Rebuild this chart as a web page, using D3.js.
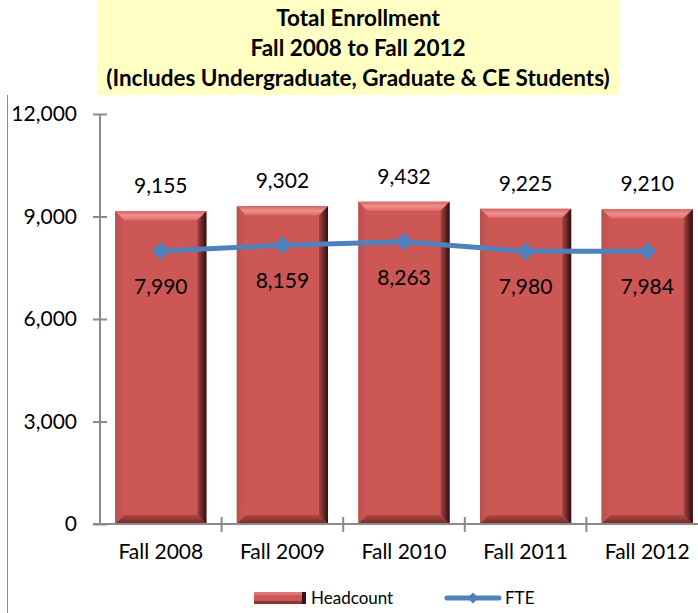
<!DOCTYPE html>
<html>
<head>
<meta charset="utf-8">
<script src="https://cdn.jsdelivr.net/npm/d3@7"></script>
<style>
  html, body { margin: 0; padding: 0; background: #fff; }
  svg { display: block; font-family: Lato, "Noto Sans", sans-serif; }
</style>
</head>
<body>
<svg id="chart" width="698" height="613"></svg>
<script>
// data
const categories = ["Fall 2008", "Fall 2009", "Fall 2010", "Fall 2011", "Fall 2012"];
const headcount = [9155, 9302, 9432, 9225, 9210];
const fte = [7990, 8159, 8263, 7980, 7984];
const yTicks = [0, 3000, 6000, 9000, 12000];
const titleLines = ["Total Enrollment", "Fall 2008 to Fall 2012", "(Includes Undergraduate, Graduate & CE Students)"];

const svg = d3.select("#chart");
const W = 698, H = 613;
const plotLeft = 100, plotBottom = 524, plotTop = 114;
const plotRight = 708; // plot runs past the window edge, like the source

const fmt = d3.format(",");

const x = d3.scaleBand().domain(categories).range([plotLeft, plotRight]).padding(0);
const xb = d3.scaleBand().domain(categories).range([plotLeft, plotRight])
    .paddingInner(0.25).paddingOuter(0.125);
const y = d3.scaleLinear().domain([0, 12000]).range([plotBottom, plotTop]);

// outer frame line on the left
svg.append("line").attr("x1", 7.5).attr("x2", 7.5).attr("y1", 95).attr("y2", H)
    .attr("stroke", "#8c8c8c").attr("stroke-width", 1);

// title box
svg.append("rect").attr("x", 97).attr("y", 0).attr("width", 523).attr("height", 95)
    .attr("fill", "#ffffc4");
svg.append("g").selectAll("text").data(titleLines).enter().append("text")
    .attr("x", 358).attr("y", (d, i) => 26 + i * 30)
    .attr("text-anchor", "middle")
    .attr("font-weight", "bold").attr("font-size", 22.5)
    .attr("fill", "#000")
    .text(d => d);

// gradients for the bevel
const defs = svg.append("defs");
const gR = defs.append("linearGradient").attr("id", "gRight").attr("x1", 0).attr("x2", 1).attr("y1", 0).attr("y2", 0);
gR.append("stop").attr("offset", 0).attr("stop-color", "#a84341");
gR.append("stop").attr("offset", 1).attr("stop-color", "#2b1010");
const gT = defs.append("linearGradient").attr("id", "gTop").attr("x1", 0).attr("x2", 0).attr("y1", 0).attr("y2", 1);
gT.append("stop").attr("offset", 0).attr("stop-color", "#d76563");
gT.append("stop").attr("offset", 0.5).attr("stop-color", "#f08e8c");
gT.append("stop").attr("offset", 1).attr("stop-color", "#dc6e6c");
const gB = defs.append("linearGradient").attr("id", "gBot").attr("x1", 0).attr("x2", 0).attr("y1", 0).attr("y2", 1);
gB.append("stop").attr("offset", 0).attr("stop-color", "#b04846");
gB.append("stop").attr("offset", 1).attr("stop-color", "#6e2a29");
const gL = defs.append("linearGradient").attr("id", "gLeft").attr("x1", 0).attr("x2", 1).attr("y1", 0).attr("y2", 0);
gL.append("stop").attr("offset", 0).attr("stop-color", "#b9504e");
gL.append("stop").attr("offset", 1).attr("stop-color", "#cd5755");

// bars
const bevel = 9;
const bars = svg.append("g").selectAll("g").data(categories).enter().append("g");
bars.each(function(c, i) {
    const g = d3.select(this);
    const x0 = xb(c), x1 = xb(c) + xb.bandwidth();
    const y0 = y(headcount[i]), y1 = y(0);
    const b = bevel;
    g.append("rect").attr("x", x0).attr("y", y0).attr("width", x1 - x0).attr("height", y1 - y0)
        .attr("fill", "#cd5755");
    g.append("polygon").attr("points", [[x0, y0], [x1, y0], [x1 - b, y0 + b], [x0 + b, y0 + b]].join(" "))
        .attr("fill", "url(#gTop)");
    g.append("polygon").attr("points", [[x0, y0], [x0 + b, y0 + b], [x0 + b, y1 - b], [x0, y1]].join(" "))
        .attr("fill", "url(#gLeft)");
    g.append("polygon").attr("points", [[x0, y1], [x0 + b, y1 - b], [x1 - b, y1 - b], [x1, y1]].join(" "))
        .attr("fill", "url(#gBot)");
    g.append("polygon").attr("points", [[x1, y0], [x1, y1], [x1 - b, y1 - b], [x1 - b, y0 + b]].join(" "))
        .attr("fill", "url(#gRight)");
});

// axes
const axisColor = "#8a8a8a";
const yAxis = svg.append("g").attr("transform", `translate(${plotLeft},0)`)
    .call(d3.axisLeft(y).tickValues(yTicks).tickSize(7).tickPadding(16).tickFormat(fmt));
yAxis.select(".domain").remove();
yAxis.selectAll(".tick line").attr("x1", 7).attr("x2", -7).attr("stroke", axisColor).attr("stroke-width", 2);
yAxis.selectAll(".tick text").attr("font-size", 21).attr("fill", "#000").attr("font-family", "Lato");
yAxis.append("line").attr("x1", 0).attr("x2", 0).attr("y1", plotTop).attr("y2", plotBottom)
    .attr("stroke", axisColor).attr("stroke-width", 2);

const xAxis = svg.append("g").attr("transform", `translate(0,${plotBottom})`)
    .call(d3.axisBottom(x).tickSize(0).tickPadding(20));
xAxis.select(".domain").remove();
xAxis.selectAll(".tick text").attr("font-size", 21).attr("fill", "#000").attr("font-family", "Lato");
xAxis.append("line").attr("x1", plotLeft - 7).attr("x2", W).attr("y1", 0).attr("y2", 0)
    .attr("stroke", axisColor).attr("stroke-width", 2);
xAxis.append("g").selectAll("line").data(categories.slice(1)).enter().append("line")
    .attr("x1", d => x(d)).attr("x2", d => x(d)).attr("y1", -7).attr("y2", 8)
    .attr("stroke", axisColor).attr("stroke-width", 2);

// headcount labels
svg.append("g").selectAll("text").data(categories).enter().append("text")
    .attr("x", d => x(d) + x.bandwidth() / 2)
    .attr("y", (d, i) => y(headcount[i]) - 18)
    .attr("text-anchor", "middle").attr("font-size", 21).attr("fill", "#000")
    .text((d, i) => fmt(headcount[i]));

// FTE line
const cx = d => x(d) + x.bandwidth() / 2;
const line = d3.line().x(d => cx(d[0])).y(d => y(d[1]));
const pts = categories.map((c, i) => [c, fte[i]]);
svg.append("path").datum(pts).attr("d", line)
    .attr("fill", "none").attr("stroke", "#4f81bd").attr("stroke-width", 5)
    .attr("stroke-linejoin", "round").attr("stroke-linecap", "round");
svg.append("g").selectAll("path").data(pts).enter().append("path")
    .attr("d", d3.symbol(d3.symbolDiamond2, 210))
    .attr("transform", d => `translate(${cx(d[0])},${y(d[1])})`)
    .attr("fill", "#4f81bd");
svg.append("g").selectAll("text").data(pts).enter().append("text")
    .attr("x", d => cx(d[0]))
    .attr("y", d => y(d[1]) + 43)
    .attr("text-anchor", "middle").attr("font-size", 21).attr("fill", "#000")
    .text(d => fmt(d[1]));

// legend
const lg = svg.append("g").attr("transform", "translate(0,598)");
lg.append("rect").attr("x", 254).attr("y", -6).attr("width", 52).attr("height", 12).attr("fill", "#cd5755");
lg.append("rect").attr("x", 254).attr("y", -6).attr("width", 52).attr("height", 3).attr("fill", "#e07775");
lg.append("rect").attr("x", 254).attr("y", 3).attr("width", 52).attr("height", 3).attr("fill", "#8a3634");
lg.append("rect").attr("x", 302).attr("y", -6).attr("width", 4).attr("height", 12).attr("fill", "#3a1515");
lg.append("text").attr("x", 311).attr("y", 6).attr("font-size", 17).attr("fill", "#000").text("Headcount");
lg.append("line").attr("x1", 447).attr("x2", 499).attr("y1", 0).attr("y2", 0)
    .attr("stroke", "#4f81bd").attr("stroke-width", 5).attr("stroke-linecap", "round");
lg.append("path").attr("d", d3.symbol(d3.symbolDiamond2, 80)).attr("transform", "translate(473,0)").attr("fill", "#4f81bd");
lg.append("text").attr("x", 505).attr("y", 6).attr("font-size", 17).attr("fill", "#000").text("FTE");
</script>
</body>
</html>
